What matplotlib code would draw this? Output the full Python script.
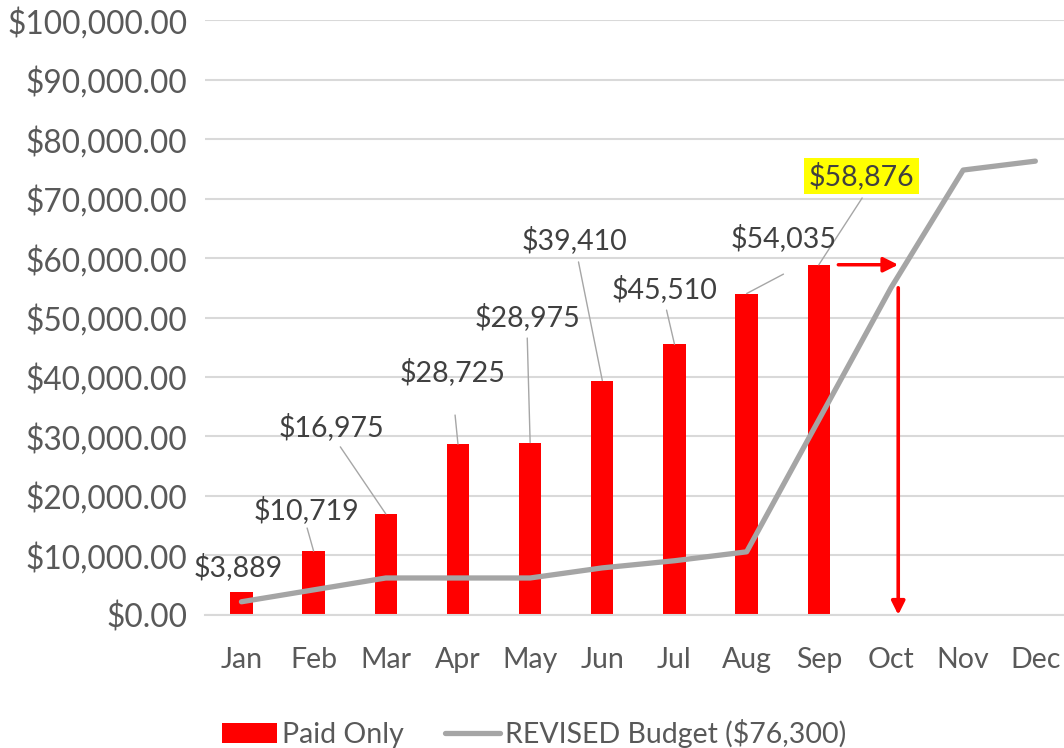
import matplotlib.pyplot as plt
import matplotlib.ticker as mticker
import numpy as np

months = ["Jan", "Feb", "Mar", "Apr", "May", "Jun", "Jul", "Aug", "Sep", "Oct", "Nov", "Dec"]
paid = [3889, 10719, 16975, 28725, 28975, 39410, 45510, 54035, 58876]
budget = [2200, 4200, 6200, 6200, 6200, 7900, 9100, 10600, 32800, 55000, 74800, 76300]

# label text centre and leader end (data coords); None = no leader
label_pos = [(-0.04, 8100), (0.90, 17650), (1.25, 31600), (2.92, 40850), (3.96, 50100),
             (4.61, 63050), (5.86, 54800), (7.51, 63350), (8.59, 73800)]
leader_end = [None, (0.91, 14600), (1.37, 28250), (2.96, 33600), (3.96, 46550),
              (4.67, 59350), (5.89, 51250), (7.51, 57300), (8.60, 70100)]

TEXT = "#595959"
LABEL = "#404040"
plt.rcParams["font.family"] = ["Lato", "DejaVu Sans"]

fig = plt.figure(figsize=(10.64, 7.48), dpi=100)
ax = fig.add_axes([0.193, 0.178, 0.814, 0.795])

x = np.arange(len(months))
bars = ax.bar(x[:len(paid)], paid, width=0.31, color="#ff0000", label="Paid Only", zorder=2)
line, = ax.plot(x, budget, color="#a5a5a5", linewidth=3.8, solid_capstyle="round",
                label="REVISED Budget ($76,300)", zorder=3)

for i, v in enumerate(paid):
    tx, ty = label_pos[i]
    bbox = dict(facecolor="#ffff00", edgecolor="none", pad=3) if i == len(paid) - 1 else None
    ax.text(tx, ty, f"${v:,}", ha="center", va="center", fontsize=20.5, color=LABEL,
            bbox=bbox, zorder=5)
    if leader_end[i] is not None:
        ax.annotate("", xy=(i, v), xytext=leader_end[i],
                    arrowprops=dict(arrowstyle="-", color="#a6a6a6", lw=1.0,
                                    shrinkA=0, shrinkB=0), zorder=4)

# red arrows: Sep paid level across to Oct, then down to zero
ax.annotate("", xy=(9.1, paid[-1]), xytext=(8.27, paid[-1]),
            arrowprops=dict(arrowstyle="-|>", color="#ff0000", lw=2.5,
                            mutation_scale=22, shrinkA=0, shrinkB=0), zorder=4)
ax.annotate("", xy=(9.1, 0), xytext=(9.1, budget[9]),
            arrowprops=dict(arrowstyle="-|>", color="#ff0000", lw=2.6,
                            mutation_scale=20, shrinkA=0, shrinkB=0), zorder=4)

ax.set_xlim(-0.5, 11.5)
ax.set_ylim(0, 100000)
ax.set_yticks(np.arange(0, 100001, 10000))
ax.yaxis.set_major_formatter(mticker.FuncFormatter(lambda v, p: f"${v:,.2f}"))
ax.set_xticks(x)
ax.set_xticklabels(months)
ax.tick_params(axis="both", length=0, labelcolor=TEXT)
ax.tick_params(axis="x", pad=23, labelsize=20.5)
ax.tick_params(axis="y", pad=13, labelsize=22.8)
ax.grid(axis="y", color="#d9d9d9", linewidth=1.5, zorder=0)
ax.set_axisbelow(True)
for s in ["top", "right", "left"]:
    ax.spines[s].set_visible(False)
ax.spines["bottom"].set_color("#d9d9d9")
ax.spines["bottom"].set_linewidth(1.5)

leg = fig.legend([bars, line], ["Paid Only", "REVISED Budget ($76,300)"],
                 loc="lower left", bbox_to_anchor=(0.185, -0.034), ncol=2, frameon=False,
                 fontsize=20.5, handlelength=1.9, handleheight=0.7, columnspacing=1.45,
                 handletextpad=0.2)
for t in leg.get_texts():
    t.set_color(TEXT)

fig.savefig("out.png", dpi=100)
